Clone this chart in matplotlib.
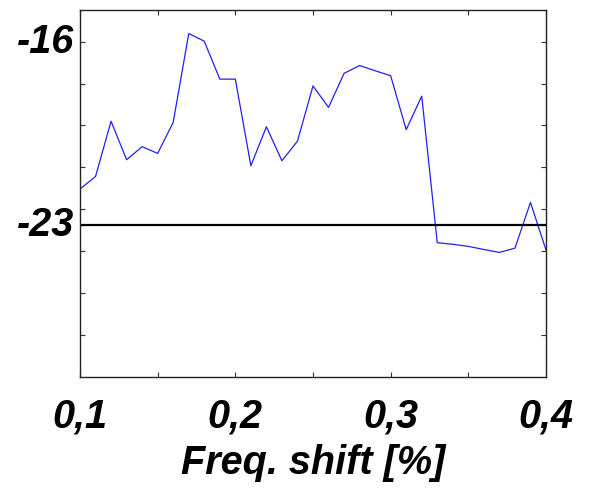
import matplotlib
matplotlib.use("Agg")
import matplotlib.pyplot as plt
import matplotlib.transforms as mtransforms

# ---- data ----
freq_shift = [0.10, 0.11, 0.12, 0.13, 0.14, 0.15, 0.16, 0.17, 0.18, 0.19, 0.20,
              0.21, 0.22, 0.23, 0.24, 0.25, 0.26, 0.27, 0.28, 0.29, 0.30,
              0.31, 0.32, 0.33, 0.34, 0.35, 0.36, 0.37, 0.38, 0.39, 0.40]
level_db = [-21.63, -21.15, -19.04, -20.51, -20.01, -20.27, -19.08, -15.69, -15.98, -17.43, -17.43,
            -20.74, -19.25, -20.55, -19.80, -17.69, -18.51, -17.21, -16.91, -17.11, -17.30,
            -19.36, -18.08, -23.68, -23.74, -23.82, -23.94, -24.05, -23.89, -22.14, -23.96]
threshold_db = -23

x_ticks = [0.1, 0.2, 0.3, 0.4]
x_tick_labels = ["0,1", "0,2", "0,3", "0,4"]
x_minor_ticks = [0.15, 0.25, 0.35]
y_ticks = [-16, -23]
y_tick_labels = ["-16", "-23"]
y_minor_ticks = [-17.6, -19.2, -20.8, -22.4, -24.0, -25.6, -27.2]
x_label = "Freq. shift [%]"

plt.rcParams['font.family'] = ['Liberation Sans', 'DejaVu Sans']

fig = plt.figure(figsize=(5.92, 4.88), dpi=100)
ax = fig.add_axes([80/592, (488-376.7)/488, 466/592, (376.7-10.3)/488])

ax.plot(freq_shift, level_db, color='#2020ff', lw=0.9)
ax.axhline(threshold_db, color='black', lw=1.6)

ax.set_xlim(0.1, 0.4)
ax.set_ylim(-28.8, -14.8)

font = dict(fontsize=28.5, fontweight='bold', fontstyle='italic')
ax.set_xticks(x_ticks)
ax.set_xticklabels(x_tick_labels, **font)
ax.set_xticks(x_minor_ticks, minor=True)
ax.set_yticks(y_ticks)
ax.set_yticklabels(y_tick_labels, **font)
ax.set_yticks(y_minor_ticks, minor=True)

ax.tick_params(which='both', direction='in', top=True, right=True,
               length=3.6, width=0.8, color='#333333')
ax.tick_params(axis='x', which='major', pad=15)
ax.tick_params(axis='y', which='major', pad=4)

# nudge y tick labels up a little
offset = mtransforms.ScaledTranslation(0, 4/100, fig.dpi_scale_trans)
for lbl in ax.get_yticklabels():
    lbl.set_transform(lbl.get_transform() + offset)

for s in ax.spines.values():
    s.set_linewidth(1.0)
    s.set_color('#222222')

ax.set_xlabel(x_label, labelpad=6, **font)

fig.savefig("out.png", dpi=100)
